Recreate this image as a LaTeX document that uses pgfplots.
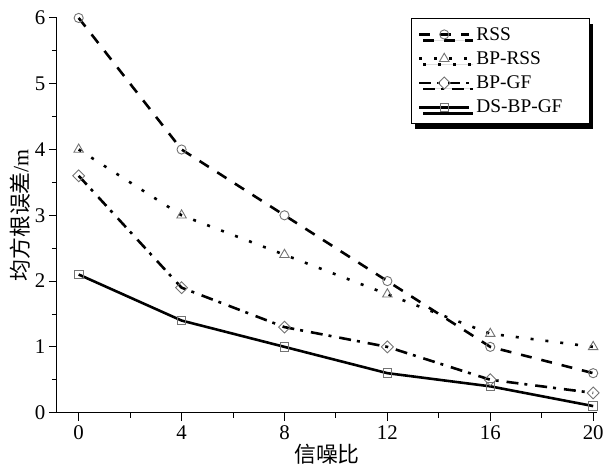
\documentclass[border=0pt]{standalone}
\usepackage{fontspec}
\setmainfont{Liberation Serif}
\newfontfamily\cjk{Noto Sans CJK SC}
\usepackage{pgfplots}
\pgfplotsset{compat=1.18}
\usetikzlibrary{shadows}
\begin{document}
\begin{tikzpicture}
\begin{axis}[
 scale only axis, width=542bp, height=396bp,
 xmin=-0.85, xmax=20.15, ymin=0, ymax=6,
 axis x line*=bottom, axis y line*=left,
 xtick={0,4,...,20}, ytick={0,1,...,6},
 minor xtick={2,6,...,18}, minor ytick={0.5,1.5,...,5.5},
 tick align=outside, major tick length=8bp, minor tick length=5bp,
 tick style={black, line width=0.9bp},
 axis line style={line width=1.1bp},
 ticklabel style={font=\fontsize{21}{24}\selectfont},
 xticklabel style={yshift=-2bp},
 /pgf/number format/assume math mode=true,
 xlabel={\cjk 信噪比}, ylabel={{\cjk 均方根误差}/m},
 label style={font=\fontsize{22}{25}\selectfont},
 xlabel style={yshift=3bp},
 ylabel style={yshift=-2bp},
 legend cell align=left,
 legend style={at={(0.655,1)}, anchor=north west, draw=black, fill=white,
   line width=0.8bp,
   drop shadow={shadow xshift=4bp, shadow yshift=-6bp, opacity=1, fill=black},
   font=\fontsize{19.5}{22}\selectfont, inner xsep=7bp, inner ysep=7bp,
   column sep=4bp, row sep=6bp},
 legend image code/.code={\draw[mark repeat=2,mark phase=2] plot coordinates {(0bp,0bp) (25bp,0bp) (50bp,0bp)};},
 every axis plot/.append style={black, line width=2.6bp},
]
\addplot[dash pattern=on 11bp off 10bp, mark=o, mark size=4.6bp, mark options={solid, draw=black!55, line width=0.9bp}]
 coordinates {(0,6) (4,4) (8,3) (12,2) (16,1) (20,0.6)};
\addlegendentry{RSS}
\addplot[dash pattern=on 3bp off 12bp, mark=triangle, mark size=5.5bp, mark options={solid, draw=black!55, line width=0.9bp}]
 coordinates {(0,4) (4,3) (8,2.4) (12,1.8) (16,1.2) (20,1.0)};
\addlegendentry{BP-RSS}
\addplot[dash pattern=on 12bp off 6bp on 3bp off 8bp, mark=square, mark size=4.2bp, mark options={solid, rotate=45, draw=black!55, line width=0.9bp}]
 coordinates {(0,3.6) (4,1.9) (8,1.3) (12,1.0) (16,0.5) (20,0.3)};
\addlegendentry{BP-GF}
\addplot[solid, mark=square, mark size=4.3bp, mark options={solid, draw=black!55, line width=0.9bp}]
 coordinates {(0,2.1) (4,1.4) (8,1.0) (12,0.6) (16,0.4) (20,0.1)};
\addlegendentry{DS-BP-GF\rule{18bp}{0pt}}
\end{axis}
\pgfresetboundingbox
\path[use as bounding box] (current axis.south west) ++(-57bp,-60bp) rectangle ++(610bp,474bp);
\end{tikzpicture}
\end{document}
